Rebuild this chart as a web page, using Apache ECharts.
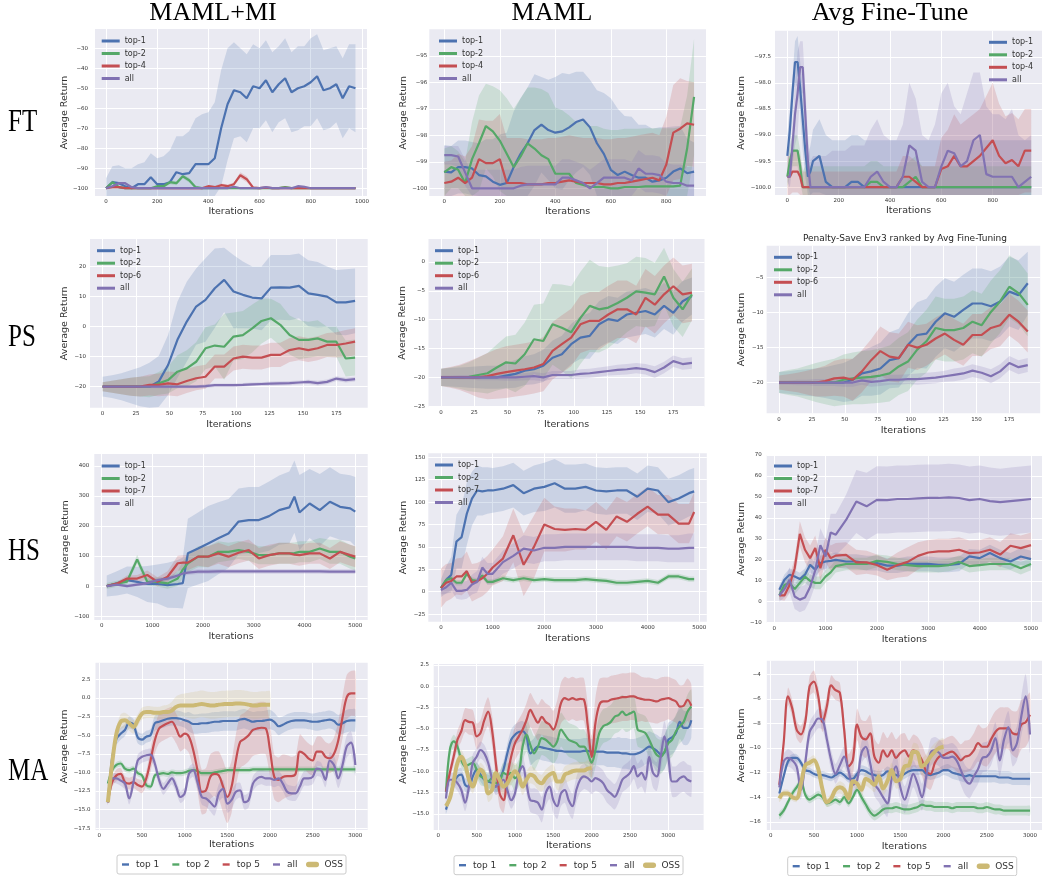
<!DOCTYPE html>
<html>
<head>
<meta charset="utf-8">
<title>Average Return vs Iterations</title>
<script src="https://cdn.jsdelivr.net/npm/echarts@6.0.0/dist/echarts.min.js"></script>
<style>
  html, body { margin: 0; padding: 0; background: #fff; }
  #chart { width: 1042px; height: 876px; }
</style>
</head>
<body>
<div id="chart"></div>
<script>
// ---------- FT row ----------
const ftMiIter = [0,25,50,75,100,125,150,175,200,225,250,275,300,325,350,375,400,425,450,475,500,525,550,575,600,625,650,675,700,725,750,775,800,825,850,875,900,925,950,975];
const ftMiTop1 = [-100,-97,-97.5,-99,-100,-98,-98,-94.5,-98,-98,-97,-92,-93,-92.5,-88,-88,-88,-85,-70,-58,-51,-52,-55,-49,-50,-46,-52,-48,-45,-52,-50,-49,-47,-44,-51,-50,-48,-55,-49,-50];
const ftMiTop1Std = [5,8,9,9,10,10,11,12,13,14,16,18,19,21,23,25,26,28,29,28,24,22,22,21,20,20,20,19,20,20,21,20,22,21,20,20,19,20,21,22];
const ftMiTop2 = [-100,-97,-99.5,-100,-100,-100,-100,-100,-99,-99,-97,-97.5,-94,-96,-99.5,-100,-100,-100,-100,-100,-100,-100,-100,-100,-100,-100,-100,-100,-99.5,-100,-100,-100,-100,-100,-100,-100,-100,-100,-100,-100];
const ftMiTop2Std = [0.5,1,0.8,0.5,0.5,0.5,0.5,0.5,0.7,0.8,1,1,1.2,1.2,0.8,0.5,0.5,0.5,0.5,0.5,0.5,0.5,0.5,0.5,0.5,0.5,0.5,0.5,0.6,0.5,0.5,0.5,0.5,0.5,0.5,0.5,0.5,0.5,0.5,0.5];
const ftMiTop4 = [-100,-99.5,-99.5,-100,-100,-100,-100,-100,-100,-100,-100,-100,-100,-100,-100,-100,-99,-99.5,-98.5,-99,-98,-93.5,-95.5,-99.7,-100,-99.7,-100,-100,-99.8,-100,-100,-100,-100,-100,-100,-100,-100,-100,-100,-100];
const ftMiTop4Std = [0.6,0.6,0.6,0.6,0.6,0.6,0.6,0.6,0.6,0.6,0.6,0.6,0.6,0.6,0.6,0.6,0.7,0.7,0.8,0.8,0.8,1.5,1.5,0.8,0.6,0.6,0.6,0.6,0.6,0.6,0.6,0.6,0.6,0.6,0.6,0.6,0.6,0.6,0.6,0.6];
const ftMiAll = [-100,-99,-97.5,-97.5,-99.5,-100,-100,-100,-100,-100,-100,-100,-100,-100,-100,-100,-100,-100,-100,-100,-99.3,-100,-100,-100,-100,-99.5,-100,-100,-100,-100,-99,-99.3,-100,-100,-100,-100,-100,-100,-100,-100];
const ftMiAllStd = [0.5,0.5,0.5,0.5,0.5,0.5,0.5,0.5,0.5,0.5,0.5,0.5,0.5,0.5,0.5,0.5,0.5,0.5,0.5,0.5,0.5,0.5,0.5,0.5,0.5,0.5,0.5,0.5,0.5,0.5,0.5,0.5,0.5,0.5,0.5,0.5,0.5,0.5,0.5,0.5];

const ftMamlIter = [0,25,50,75,100,125,150,175,200,225,250,275,300,325,350,375,400,425,450,475,500,525,550,575,600,625,650,675,700,725,750,775,800,825,850,875,900];
const ftMamlTop1 = [-99.37,-99.4,-99.2,-99.2,-99.25,-99.5,-99.55,-99.75,-99.87,-99.8,-99.2,-98.7,-98.3,-97.8,-97.6,-97.8,-97.9,-97.85,-97.7,-97.5,-97.4,-97.7,-98.3,-98.7,-99.3,-99.5,-99.37,-99.5,-99.6,-99.6,-99.75,-99.7,-99.6,-99.37,-99.25,-99.43,-99.37];
const ftMamlTop1Std = [1,1,1,1,1,1.2,1.4,1.6,1.9,1.9,2.1,2.1,2.1,2.1,1.8,1.9,2.1,2.2,2,1.9,1.8,1.8,2,2.3,2.7,2.5,2.1,2.2,2,2,2,2,1.9,1.7,1.6,1.3,1.1];
const ftMamlTop2 = [-99.4,-99.2,-99.3,-99.8,-98.9,-98.3,-97.65,-97.85,-98.2,-98.7,-99.2,-98.8,-98.3,-98.5,-98.75,-98.9,-99.45,-99.45,-99.45,-99.8,-99.87,-99.95,-99.95,-99.95,-100,-100,-99.95,-99.95,-99.95,-99.93,-99.93,-99.93,-99.93,-99.93,-99.9,-98.5,-96.55];
const ftMamlTop2Std = [0.9,0.8,0.7,0.8,1.4,1.8,1.6,1.7,1.9,2.1,2.2,2.2,2.1,2.3,2.5,2.5,2.5,2.4,2.2,2.3,2.4,2.3,2.3,2.2,2.2,2.2,2.2,2.2,2.2,2.2,2.2,2.2,2.2,2.2,2.2,2,2.2];
const ftMamlTop4 = [-99.8,-99.75,-99.6,-99.8,-99.6,-98.9,-99.05,-99.05,-98.9,-99.8,-99.8,-99.8,-99.85,-99.85,-99.85,-99.8,-99.8,-99.75,-99.7,-99.75,-99.8,-99.8,-99.8,-99.85,-99.85,-99.8,-99.8,-99.75,-99.7,-99.65,-99.6,-99.7,-99.1,-97.9,-97.75,-97.55,-97.6];
const ftMamlTop4Std = [0.8,0.8,0.9,1,1.2,1.5,1.6,1.6,1.7,1.7,1.7,1.7,1.7,1.7,1.7,1.7,1.7,1.7,1.7,1.7,1.7,1.7,1.7,1.7,1.7,1.7,1.7,1.7,1.7,1.7,1.7,1.7,1.8,1.8,1.9,1.6,1.6];
const ftMamlAll = [-98.75,-98.75,-98.8,-99.4,-100,-100,-100,-100,-100,-100,-100,-99.9,-99.85,-99.85,-99.85,-99.85,-99.85,-99.6,-99.6,-99.7,-99.8,-100,-99.8,-99.6,-99.6,-99.6,-99.6,-99.7,-99.25,-99.45,-99.45,-99.5,-99.75,-99.8,-99.8,-99.9,-99.9];
const ftMamlAllStd = [0.35,0.35,0.4,0.5,0.6,0.7,0.7,0.7,0.7,0.7,0.7,0.7,0.7,0.7,0.7,0.7,0.7,0.7,0.7,0.7,0.7,0.7,0.7,0.7,0.7,0.7,0.7,0.7,0.7,0.7,0.7,0.7,0.7,0.7,0.7,0.7,0.7];

const ftAvgIter = [0,10,20,30,40,50,60,70,80,90,100,125,150,175,200,225,250,275,300,325,350,375,400,425,450,475,500,525,550,575,600,625,650,675,700,725,750,775,800,825,850,875,900,925,950];
const ftAvgTop1 = [-99.4,-98.9,-98.2,-97.6,-97.6,-98.1,-98.7,-99.3,-99.8,-99.7,-99.5,-99.4,-99.9,-100,-100,-100,-99.9,-99.9,-100,-100,-100,-100,-100,-100,-100,-100,-100,-100,-100,-100,-100,-100,-100,-100,-100,-100,-100,-100,-100,-100,-100,-100,-100,-100,-100];
const ftAvgTop1Std = [0.4,0.4,0.3,0.4,0.5,0.5,0.6,0.5,0.4,0.5,0.6,0.7,0.9,0.9,0.9,0.9,0.9,0.9,0.9,0.9,0.9,0.9,0.9,0.9,0.9,0.9,0.9,0.9,0.9,0.9,0.9,0.9,0.9,0.9,0.9,0.9,0.9,0.9,0.9,0.9,0.9,0.9,0.9,0.9,0.9];
const ftAvgTop2 = [-99.8,-99.5,-99.3,-99.3,-99.3,-99.6,-100,-100,-100,-100,-100,-100,-100,-100,-100,-100,-100,-100,-100,-99.9,-99.9,-100,-100,-100,-100,-99.9,-99.8,-100,-100,-100,-100,-100,-100,-100,-100,-100,-100,-100,-100,-100,-100,-100,-100,-100,-100];
const ftAvgTop2Std = [0.2,0.3,0.3,0.3,0.3,0.3,0.3,0.4,0.4,0.4,0.4,0.4,0.4,0.4,0.4,0.4,0.4,0.4,0.4,0.4,0.4,0.4,0.4,0.4,0.4,0.4,0.4,0.4,0.4,0.4,0.4,0.4,0.4,0.4,0.4,0.4,0.4,0.4,0.4,0.4,0.4,0.4,0.4,0.4,0.4];
const ftAvgTop4 = [-99.8,-99.8,-99.7,-99.7,-99.7,-99.8,-100,-100,-100,-100,-100,-100,-100,-100,-100,-100,-100,-100,-100,-100,-100,-100,-100,-100,-99.8,-99.8,-99.9,-100,-100,-100,-99.65,-99.6,-99.4,-99.6,-99.6,-99.5,-99.4,-99.25,-99.1,-99.4,-99.54,-99.48,-99.6,-99.3,-99.3];
const ftAvgTop4Std = [0.4,0.4,0.4,0.4,0.4,0.4,0.3,0.3,0.3,0.3,0.3,0.3,0.3,0.3,0.3,0.3,0.3,0.3,0.3,0.3,0.3,0.3,0.3,0.3,0.4,0.4,0.4,0.4,0.4,0.4,0.6,0.7,0.8,0.8,0.9,0.9,0.9,1,1.1,1,0.9,0.9,0.9,0.8,0.8];
const ftAvgAll = [-99.8,-99.8,-99.2,-98.6,-98.2,-97.7,-97.7,-98.6,-99.5,-100,-100,-100,-100,-100,-100,-100,-100,-100,-100,-99.8,-99.7,-99.9,-100,-100,-99.8,-99.2,-99.3,-99.9,-100,-100,-99.6,-99.3,-99.35,-99.6,-99.5,-99.1,-99,-99.75,-99.8,-99.8,-99.8,-99.8,-100,-99.9,-99.8];
const ftAvgAllStd = [0.1,0.2,0.4,0.6,0.8,0.5,0.5,0.5,0.5,0.5,0.6,0.6,0.6,0.7,0.7,0.7,0.8,0.8,0.8,0.9,1,0.9,0.9,0.9,1,1.2,1,0.9,0.9,1.2,1.4,1.3,0.9,1,1.3,1.3,1.2,1.3,1.2,1.2,1.1,1.3,1,0.8,0.8];

// ---------- PS row ----------
const psIter = [0,7,14,21,28,35,42,49,56,63,70,77,84,91,98,105,112,119,126,133,140,147,154,161,168,175,182,189];
const psMiTop1 = [-20,-20,-20,-20,-20,-20,-18.3,-12.8,-4.4,1.7,6.7,8.9,12.8,15.6,11.7,10.6,9.7,9.4,13,13.1,13,13.6,11.1,10.6,10,8.1,8.1,8.6];
const psMiTop1Std = [3.3,3.8,4.5,5.5,6.5,8,8.5,10,12.7,13.3,12.7,13.9,13.2,10.7,12.2,11.1,10.3,10.6,10.9,10.8,10.9,10.8,11,10.9,10,10.8,11,10.8];
const psMiTop2 = [-20,-20,-20,-20,-20,-20,-18.9,-17.8,-15,-13.9,-11.7,-7.2,-6.3,-6.7,-3.3,-2.8,-0.6,1.9,2.8,0.6,-2.8,-4.4,-4.4,-3.9,-5,-5,-10.6,-10.3];
const psMiTop2Std = [1.5,2,2.5,3,3.3,3.5,3.8,4.5,5.5,6,6.5,7,7,11,8,8,8,7.5,6.5,7,6.5,6.5,6,6,5,5,6,6];
const psMiTop6 = [-20,-20,-20,-20,-20,-19.4,-19.4,-18.9,-19.2,-18.1,-17.2,-16.7,-13.3,-13.3,-10.6,-10,-10.3,-10.3,-9.4,-9.4,-7.8,-7.2,-7.8,-7.2,-6.1,-6.1,-5.6,-5];
const psMiTop6Std = [1.5,2,2.5,3,3.3,3.5,3.8,4,4,4,4,4,4,4,4,4,4,4,4,4,4,4,4,4,4,4.2,4.5,4.5];
const psMiAll = [-20,-20,-20,-20,-20,-20,-20,-20,-20,-20,-20,-19.8,-19.5,-19.5,-19.5,-19.4,-19.2,-19.1,-19,-18.9,-18.8,-18.6,-18.4,-18.8,-18.4,-17.3,-17.8,-17.5];
const psMiAllStd = [0.3,0.3,0.3,0.4,0.4,0.4,0.5,0.5,0.5,0.5,0.5,0.6,0.6,0.6,0.6,0.6,0.6,0.6,0.7,0.7,0.7,0.7,0.7,0.8,0.8,0.8,0.8,0.8];

const psMamlTop1 = [-20,-20,-20,-20,-20,-20,-20,-19.7,-19.4,-18.85,-18.6,-18,-16.6,-16,-14.25,-13.1,-12.8,-10.8,-9.9,-10.2,-9.1,-8.8,-8.5,-9.1,-7.6,-8.8,-6.8,-5.9];
const psMamlTop1Std = [1.5,1.6,1.7,1.8,1.9,2,2,2.2,2.4,2.5,2.6,2.8,3,3.2,3.5,3.7,4,4,4,4,4,4,4,4,4,3.8,3.5,3.2];
const psMamlTop2 = [-20,-20,-20,-19.9,-19.6,-19.3,-18.3,-17.4,-17.6,-16,-13.4,-13.7,-10.8,-11.4,-12.2,-9.7,-7.6,-8.2,-7.9,-7.1,-6.2,-5.1,-5.3,-5.6,-2.5,-6.2,-8.2,-5.6];
const psMamlTop2Std = [1.5,1.7,2,2.5,3,3.5,4,4.5,5,5.5,6,6.5,7,7.5,8,8,8,7.5,7,6.5,6,6,6,5.5,5,5,4.8,4.5];
const psMamlTop6 = [-20,-20,-20,-20,-20,-19.8,-19.4,-19.1,-18.85,-18.6,-18.3,-17.7,-15.4,-14.25,-13.1,-10.8,-10.2,-10.2,-9.1,-8.2,-8.2,-9.1,-6.2,-7.4,-5.6,-4.2,-5.6,-5.3];
const psMamlTop6Std = [1.5,1.8,2.2,2.8,3.5,4,4.3,4.5,4.5,4.5,4.5,4.7,5,5,5,5,5,5,5,5,5,5,5,5,5,5,5,5];
const psMamlAll = [-20,-20,-20,-20,-20,-20,-20,-20,-20,-19.9,-19.8,-20,-19.6,-19.6,-19.6,-19.4,-19.3,-19.1,-18.9,-18.7,-18.6,-18.4,-18.6,-19.1,-18.3,-17.2,-17.7,-17.5];
const psMamlAllStd = [0.3,0.3,0.4,0.4,0.5,0.5,0.5,0.6,0.6,0.6,0.7,0.7,0.7,0.7,0.7,0.8,0.8,0.8,0.8,0.9,0.9,0.9,0.9,1,1,1,1,1];

const psAvgTop1 = [-20,-20,-20,-20,-20,-20,-20,-20,-19.6,-18.7,-18.4,-18,-16.8,-16.5,-14.6,-13.2,-13,-11.3,-10.1,-10.6,-9.6,-8.7,-8.7,-9.1,-8.4,-7,-7.5,-5.8];
const psAvgTop1Std = [1.5,1.6,1.8,1.9,2,2.2,2.5,2.8,3,3.2,3.5,3.7,4,4.2,4.5,4.7,5,5,5,5,5,5,5,5,5,5,5,4.5];
const psAvgTop2 = [-20,-20,-20,-20,-20,-20,-20,-19.6,-19.4,-19.3,-19.2,-19,-18.7,-17.7,-17,-15.3,-14.1,-12.2,-12.5,-12.5,-12.2,-11.3,-11.8,-9.9,-8.4,-6.3,-7.2,-8.9];
const psAvgTop2Std = [1.5,1.8,2,2.4,2.8,3.1,3.4,3.6,3.7,3.8,3.8,3.9,4,4.1,4.2,4.3,4.5,4.5,4.5,4.5,4.5,4.5,4.5,4.5,4.5,4.5,4.5,4.5];
const psAvgTop6 = [-20,-20,-20,-20,-20,-19.8,-19.4,-19.3,-19.6,-18.4,-16.8,-15.5,-16.3,-16.5,-14.6,-15,-14.6,-13.7,-13,-13.9,-14.6,-13.2,-13.2,-12.2,-11.8,-10.3,-11.3,-12.7];
const psAvgTop6Std = [1,1.2,1.4,1.7,2,2.2,2.5,2.7,3,3,3,3.5,3.5,3.5,3.3,3.2,3,3,3,3,3,3,3,3,3,3,3,3];
const psAvgAll = [-20,-20,-20,-20,-20,-20,-20,-20,-20,-19.7,-19.9,-19.8,-19.6,-19.6,-19.5,-19.5,-19.4,-19.3,-19.1,-18.9,-18.7,-18.3,-18.6,-19.1,-18.4,-17.2,-17.8,-17.5];
const psAvgAllStd = [0.3,0.3,0.4,0.4,0.5,0.5,0.5,0.6,0.6,0.6,0.7,0.7,0.7,0.7,0.7,0.8,0.8,0.8,0.8,0.9,0.9,0.9,0.9,1,1,1,1,1];

// ---------- HS row ----------
const hsMiIter = [100,300,500,700,900,1100,1300,1500,1600,1700,1900,2100,2300,2500,2700,2900,3100,3300,3500,3700,3800,3900,4100,4300,4500,4700,4900,5000];
const hsMiTop1 = [0,9,20,14,7,7,3,7,10,109,125,142,159,175,215,220,220,233,253,262,298,245,275,253,281,264,259,248];
const hsMiTop1Std = [35,40,45,50,60,65,75,80,85,115,120,125,120,115,110,110,110,115,115,120,120,125,115,120,115,110,110,115];
const hsMiTop2 = [0,8,15,89,14,14,9,25,55,76,98,98,114,114,120,114,103,103,109,109,110,114,114,125,114,114,98,92];
const hsMiTop2Std = [10,10,10,15,12,15,18,25,28,30,35,35,35,30,30,30,30,30,35,35,35,35,35,35,40,40,40,40];
const hsMiTop7 = [0,8,25,25,37,14,31,76,78,78,98,98,109,98,111,120,92,103,109,109,105,103,109,109,92,114,103,98];
const hsMiTop7Std = [5,6,10,12,15,15,18,25,25,25,30,35,35,35,35,35,35,35,35,35,35,35,35,35,35,35,35,35];
const hsMiAll = [0,5,0,5,10,20,25,35,42,45,48,48,49,49,49,49,49,49,49,49,49,49,49,49,48,48,48,48];
const hsMiAllStd = [5,5,5,6,6,7,7,8,8,8,8,8,8,8,8,8,8,8,8,8,8,8,8,8,8,8,8,8];

const hsMamlIter = [0,100,200,300,400,500,600,700,800,900,1000,1200,1400,1600,1800,2000,2200,2400,2600,2800,3000,3200,3400,3600,3800,4000,4200,4400,4600,4800,4900];
const hsMamlTop1 = [4,13,19,56,61,87,104,113,112,113,113,115,119,110,115,117,121,115,115,117,113,112,113,113,106,115,113,100,104,110,112];
const hsMamlTop1Std = [10,15,20,30,35,35,30,28,27,26,25,25,25,25,26,27,27,27,27,26,26,26,26,26,26,26,26,26,26,26,26];
const hsMamlTop2 = [4,13,15,10,10,20,13,12,18,11,11,15,13,15,13,14,13,13,13,14,13,12,10,10,11,12,10,17,17,14,14];
const hsMamlTop2Std = [3,3,3,3,3,3,3,3,3,3,3,3,3,3,3,3,3,3,3,3,3,3,3,3,3,3,3,3,3,3,3];
const hsMamlTop7 = [4,10,12,17,17,23,10,12,15,20,27,37,63,30,50,75,70,69,70,69,78,69,84,78,87,95,86,86,76,76,89];
const hsMamlTop7Std = [22,21,20,20,21,22,21,20,20,20,20,25,30,35,35,30,25,24,23,22,22,22,22,22,22,22,22,22,22,22,22];
const hsMamlAll = [2,5,10,1,1,2,8,11,27,20,20,33,40,48,46,49,49,50,50,50,50,50,50,50,49,49,49,48,48,49,49];
const hsMamlAllStd = [5,7,8,9,10,10,11,12,12,12,12,13,14,15,15,15,15,15,15,15,15,15,15,15,15,15,15,15,15,16,16];

const hsAvgIter = [100,200,300,400,500,600,700,800,900,1000,1100,1200,1400,1600,1800,2000,2200,2400,2600,2800,3000,3200,3400,3600,3800,4000,4200,4400,4600,4800,5000];
const hsAvgTop1 = [5.7,10.5,12.9,12,10.8,12.9,17.6,15.3,18.4,19.2,19.5,20,19.2,19.2,18.4,18.4,17.2,17.2,18.1,18.1,18.1,17.6,17.6,18.1,21.6,20.8,23.2,20.8,19.2,21.6,20.3];
const hsAvgTop1Std = [2,2.5,3,3,3,3,3.5,3.5,3.5,3.5,3.5,3.5,3.5,3.5,3.5,3.5,3.5,3.5,3.5,3.5,3.5,3.5,3.5,3.5,3.5,4,4,4,4,4,4];
const hsAvgTop2 = [3,8,9,6,9,12,10,9,9,12,14,17,18,18,18,19.5,19,18,17.5,17,17,17,17.5,19,17,17.5,18,18,18,16,18];
const hsAvgTop2Std = [2,2,2.5,2.5,2.5,3,3,3,3,3,3,3,3,3,3,3,3,3,3,3,3,3,3,3,3,3,3,3,3,3,3];
const hsAvgTop7 = [3,3,8,16,32.4,24.8,20.8,25.6,16,24.8,20.8,22,22.4,18.8,18.8,17.5,15.3,17.5,19,21.9,23.5,24,24,24.8,23.2,23.5,24.8,22.5,26.7,25.6,27];
const hsAvgTop7Std = [2,2.5,4,5,6,6,6,6,6,6,6,6,6,6,5.5,5,5,6,7,6.5,6,6,6,6,6,6,6,6,6,6,6];
const hsAvgAll = [3,6,10.5,2.5,1,2,7,15,27,21.6,33,32,39,47.8,45.5,48.6,48.5,49,49,49.3,49.5,49.5,49.8,49.5,48.5,49,48,47.5,48,48.5,49];
const hsAvgAllStd = [3,4,6,6,6,6,6,7,8,8,9,10,12,15,16,16,16,16,16,16,16,16,16,16,16,16,16,16,16,16,16];

// ---------- MA row ----------
const maMiIter = [100,150,200,250,300,350,400,450,500,550,600,650,700,750,800,850,900,950,1000,1050,1100,1150,1200,1250,1300,1350,1400,1450,1500,1550,1600,1650,1700,1750,1800,1850,1900,1950,2000,2050,2100,2150,2200,2250,2300,2350,2400,2450,2500,2550,2600,2650,2700,2750,2800,2850,2900,2950,3000];
const maMiTop1 = [-14,-8,-5.5,-4.8,-4.3,-3.3,-3.6,-5.3,-5.6,-5.2,-5,-3.4,-3.2,-3,-2.8,-2.7,-2.7,-2.8,-3,-3.2,-3.5,-3.5,-3.4,-3.4,-3.3,-3.2,-3.2,-3.1,-3.1,-3.1,-3.1,-2.9,-2.8,-3,-3.2,-3.1,-3.1,-3,-2.9,-3.2,-3.8,-3.6,-3.3,-3.1,-3,-3,-3,-3.1,-3.2,-3.2,-3.1,-3,-2.9,-3.1,-3.6,-3.4,-3.1,-3,-3];
const maMiTop1Std = [0.3,0.6,0.8,0.8,0.8,0.8,0.8,0.8,0.8,0.8,0.8,1,1,1,1,1,1,1,1,1.3,1.3,1.3,1.3,1.3,1.3,1.3,1.3,1.3,1.3,1.3,1.3,1.3,1.3,1.3,1.3,1.3,1.3,1.3,1.3,1.2,1.2,1.1,1.1,1.1,1.1,1.1,1.1,1.1,1.1,1.2,1.2,1.2,1.2,1.2,1.3,1.4,1.5,1.5,1.5];
const maMiTop2 = [-11.5,-9.7,-9,-8.8,-9.5,-9.7,-9.5,-10.1,-10.4,-11.7,-11.9,-10.4,-10.2,-10.1,-10.2,-10,-10.1,-10.1,-10,-9.8,-9.7,-9.8,-10.1,-10.1,-10.1,-10,-9.9,-9.8,-9.7,-9.7,-9.7,-9.7,-9.7,-9.7,-9.6,-9.6,-9.6,-9.6,-9.6,-9.6,-9.6,-9.6,-9.6,-9.6,-9.6,-9.6,-9.6,-9.6,-9.6,-9.6,-9.6,-9.6,-9.6,-9.6,-9.6,-9.6,-9.6,-9.6,-9.6];
const maMiTop2Std = [0.3,0.4,0.4,0.4,0.4,0.4,0.4,0.4,0.4,0.4,0.4,0.4,0.4,0.4,0.4,0.4,0.4,0.4,0.4,0.4,0.4,0.4,0.4,0.4,0.4,0.4,0.4,0.4,0.4,0.4,0.4,0.4,0.4,0.4,0.4,0.4,0.4,0.4,0.4,0.4,0.4,0.4,0.4,0.4,0.4,0.4,0.4,0.4,0.4,0.4,0.4,0.4,0.4,0.4,0.4,0.4,0.4,0.4,0.4];
const maMiTop5 = [-14,-11.3,-10.4,-10.2,-11.3,-11.5,-11.3,-11.7,-11.9,-10.8,-8.4,-5.7,-4.1,-3.7,-3.4,-3.2,-4.1,-5.2,-4.8,-5.2,-7,-9.7,-12.6,-12.4,-10.6,-10.2,-10.4,-11.9,-13.3,-11.9,-8.4,-5.9,-5.5,-5,-4.3,-4.1,-4,-4.1,-7,-10.6,-11,-10.6,-10.5,-10.5,-10.2,-7.2,-7.5,-8.1,-8.4,-7.2,-7.2,-7.9,-8.1,-7.5,-5.7,-2.6,0.1,0.6,0.6];
const maMiTop5Std = [0.3,0.6,0.8,0.8,0.8,0.8,0.8,0.8,0.9,1,1.5,1.8,2,2,2,2,2,2,2,2.2,2.5,2.8,3,3,3,3,3.2,3.5,3.5,3.5,3.5,3.5,3.5,3.5,3.5,3.5,3.5,3.5,3.5,3,3,3,2.8,2.6,2.5,2.3,2,2,2,2,2,2,2,2.2,2.5,2.8,3,3,3];
const maMiAll = [-14,-10.8,-10.8,-11.1,-11.5,-13.5,-11.3,-8.4,-7.9,-7.7,-7.6,-8.8,-11,-12.2,-11.5,-10.8,-11.9,-13.3,-12.8,-10.2,-9.7,-11.3,-13.3,-13.5,-14,-14.6,-12.8,-12.2,-14.2,-13.7,-12.6,-12.4,-14,-13.7,-11.5,-10.8,-10.6,-10.8,-10.8,-11,-10.8,-11.5,-12.6,-12.8,-12.8,-11.9,-10.8,-10.8,-10.6,-9.5,-9.7,-11,-8.4,-9,-10.8,-9,-6.5,-6,-9];
const maMiAllStd = [0.3,0.6,0.7,0.7,0.8,0.8,0.8,0.8,0.8,0.8,0.8,0.8,0.8,0.8,0.8,0.8,0.8,0.8,0.8,0.9,0.9,1,1,1.1,1.2,1.2,1.2,1.2,1.2,1.2,1.1,1,1,1,1,1,1,1,1,1,1,1,1,1,1,1,1,1,1,1,1,1,1.1,1.2,1.3,1.4,1.5,1.5,1.5];
const maMiOss = [-14,-8.8,-4.8,-3.2,-3,-3.4,-3.9,-3,-2.1,-1.9,-1.9,-2,-2,-1.9,-1.9,-1.7,-1.2,-1,-1,-1,-1,-0.9,-0.8,-0.9,-1,-1,-0.9,-0.85,-0.8,-0.8,-0.75,-0.75,-0.8,-0.9,-1,-1,-0.9,-0.9,-0.9];
const maMiOssStd = [0.3,0.6,0.8,1,1,1,0.9,0.8,0.8,0.8,0.8,0.8,0.8,0.9,1,1.2,1.4,1.5,1.6,1.7,1.8,1.8,1.8,1.8,1.8,1.8,1.8,1.8,1.8,1.8,1.8,1.8,1.8,1.8,1.8,1.8,1.8,1.8,1.8];

const maMamlIter = [100,150,200,250,300,350,400,450,500,550,600,650,700,750,800,850,900,950,1000,1050,1100,1150,1200,1250,1300,1350,1400,1450,1500,1550,1600,1650,1700,1750,1800,1850,1900,1950,2000,2050,2100,2150,2200,2250,2300,2350,2400,2450,2500,2550,2600,2650,2700,2750,2800,2850,2900,2950,3000,3050,3100,3150,3200,3250,3300];
const maMamlTop1 = [-14.5,-13,-11.4,-10.6,-10.4,-11.6,-11.8,-10.6,-9.8,-10.4,-11,-11.2,-11.4,-11.8,-11,-9.8,-7.9,-6.3,-5.7,-5.4,-5.3,-5.9,-7.9,-7.5,-7.1,-7.2,-7.3,-7.4,-7.5,-7.6,-7.6,-7.7,-7.7,-7.7,-7.7,-7.7,-7.6,-7.6,-7.7,-7.7,-7.7,-7.7,-7.8,-7.8,-7.8,-7.8,-7.9,-7.9,-8,-8,-7.9,-7.7,-7.4,-7.1,-7.3,-7.6,-8,-7.8,-6.3,-6,-5.5,-4.2,-4.9,-4.9,-4];
const maMamlTop1Std = [0.5,0.6,0.7,0.8,0.8,0.8,0.8,0.8,0.8,0.8,0.8,0.8,0.8,0.8,0.9,1,1.1,1.2,1.2,1.2,1.2,1.3,1.4,1.4,1.5,1.5,1.5,1.5,1.5,1.5,1.5,1.5,1.5,1.5,1.5,1.5,1.5,1.5,1.5,1.6,1.6,1.6,1.7,1.7,1.7,1.8,1.8,1.8,1.8,1.8,1.8,1.8,1.8,1.8,1.8,1.9,2,2,2,2,2,2,2,2,2];
const maMamlTop2 = [-12.4,-7.5,-6.5,-7.1,-8.7,-9.4,-9.2,-9,-9.8,-10.6,-10.8,-11.2,-10.8,-11.4,-11.2,-10.2,-10.4,-10.2,-10.8,-10.2,-7.1,-5.7,-6.9,-7.9,-7.1,-6.1,-6.3,-6.7,-7.1,-6.5,-5.1,-5.7,-6.3,-6.5,-6.7,-7.1,-7.1,-7.9,-9,-7.5,-5.5,-4.7,-4.5,-4.2,-3.6,-3.4,-3,-3.4,-3.2,-3,-5.1,-5.3,-5.5,-6.3,-7.3,-8.1,-8.3,-7.7,-6.7,-6.3,-5.3,-4.7,-4.2,-3,-2.4];
const maMamlTop2Std = [0.6,0.8,0.8,0.8,0.8,0.8,0.8,0.8,0.9,1,1,1,1,1,1.1,1.2,1.3,1.4,1.5,1.6,1.8,2,2,2,2,2,2,2,2,2,2,2,2,2,2,2,2,2,2,2,2,2,2,2,2,2,2,2,2,2,2,2,2,2,2,2,2,2,2,2,2,2,2,2,2];
const maMamlTop5 = [-12.4,-10.2,-8.3,-6.3,-5.3,-4,-4.2,-4.3,-5.9,-5.5,-4,-3,-5.1,-9,-12.6,-13.4,-10.6,-8.3,-6.7,-5.9,-5.1,-4,-2.8,-3.6,-4.3,-3.6,-4.2,-4.5,-5.1,-4,-2,-1.4,-1.6,-1.4,-1.6,-1.5,-1.6,-4.7,-8.3,-4.3,-2.2,-1.8,-1.8,-1.6,-1.5,-1.4,-1.3,-1.3,-1.2,-1.2,-1.4,-1.5,-1.6,-1.6,-1.7,-1.8,-1.6,-1.5,-1.4,-1.6,-1.8,-2.4,-2.3,-1.6,-2.3];
const maMamlTop5Std = [0.5,0.7,0.9,1.1,1.2,1.4,1.5,1.5,1.5,1.5,1.6,1.7,1.8,1.8,1.6,1.5,1.6,1.8,2,2,2,2,2,2,2.1,2.1,2.2,2.2,2.2,2.3,2.4,2.5,2.5,2.5,2.5,2.5,2.5,2.5,2.5,3,3,2.8,2.8,2.8,2.8,2.8,2.8,2.8,2.8,2.8,2.8,2.6,2.6,2.6,2.6,2.6,2.6,2.6,2.5,2.5,2.5,2.5,2.5,2.5,2.5];
const maMamlAll = [-13.2,-11,-11,-11.4,-12.2,-13.7,-11.8,-9,-8.3,-7.5,-7.9,-9,-10.8,-11.8,-11.4,-11,-12.2,-13.4,-12.6,-10.2,-9.4,-11.4,-13.4,-13.5,-13.7,-14.5,-12.6,-11.8,-13.4,-14.1,-12.6,-12.2,-13.4,-14.1,-12.2,-11,-10.6,-10.8,-11.2,-10.8,-11,-11.4,-12.2,-12.6,-13,-12.2,-11,-10.6,-10.2,-9.4,-10.6,-10.2,-11,-8.3,-10.2,-10.6,-8.3,-5.9,-8.3,-11.2,-11.2,-10.8,-10.6,-11,-11.2];
const maMamlAllStd = [0.5,0.7,0.8,0.9,1,1,1,1,1,1,1,1,1,1,1,1,1,1,1,1.1,1.2,1.3,1.4,1.5,1.5,1.5,1.5,1.5,1.5,1.5,1.5,1.5,1.5,1.5,1.5,1.5,1.5,1.5,1.5,1.5,1.5,1.5,1.5,1.5,1.5,1.5,1.5,1.5,1.5,1.5,1.5,1.6,1.6,1.7,1.7,1.7,1.8,1.8,1.8,1.8,1.8,1.8,1.8,1.8,1.8];
const maMamlOss = [-14.1,-13.2,-11.2,-9,-8.3,-9.2,-11,-11.8,-10.6,-9.8,-10.4,-12.6,-12.2,-10.2,-11,-11.8,-11.4,-10.6,-10,-10.6,-11.8,-11,-10.4,-10.6,-11.2,-11.4,-10.8,-10.4,-10.2,-11.2,-11.2,-10.4,-10.2,-10,-9.9,-9.9,-9.9,-9.7,-9.6];
const maMamlOssStd = [0.4,0.5,0.6,0.8,0.8,0.8,0.8,0.8,0.8,0.8,0.9,1,1,1,1,1,1,1,1,1,1,1,1,1,1,1,1,1,1,1,1,1,1,1,1,1,1,1,1];

const maAvgIter = maMiIter;
const maAvgTop1 = [-13.7,-12.3,-11.1,-10.8,-10.8,-11.2,-11.8,-11.9,-12.1,-12.2,-12.2,-12.3,-12.4,-12.2,-12,-12.2,-12.5,-12.5,-12.1,-11.8,-11.9,-12.1,-12.2,-12.3,-12.2,-11.9,-12.1,-12.2,-12.3,-12.1,-11.9,-11.8,-11.8,-11.8,-12.1,-12.2,-12.1,-12,-11.8,-11.8,-12,-12.1,-12.2,-12.3,-12.2,-12.3,-12.3,-12.3,-12.3,-12.3,-12.3,-12.4,-12.4,-12.4,-12.5,-12.5,-12.5,-12.5,-12.5];
const maAvgTop1Std = [0.3,0.3,0.3,0.3,0.3,0.3,0.3,0.3,0.3,0.3,0.3,0.3,0.3,0.3,0.3,0.3,0.3,0.3,0.3,0.4,0.4,0.4,0.4,0.4,0.4,0.4,0.4,0.4,0.4,0.4,0.4,0.4,0.4,0.4,0.4,0.4,0.4,0.4,0.4,0.5,0.5,0.5,0.5,0.5,0.5,0.5,0.5,0.5,0.5,0.5,0.5,0.5,0.5,0.5,0.5,0.5,0.5,0.5,0.5];
const maAvgTop2 = [-15.5,-15.1,-14.4,-13.7,-13.2,-12.7,-13.8,-14.2,-14,-13.8,-14,-14.5,-14.4,-14.2,-14.4,-14,-14.5,-14,-13.4,-14,-14.6,-15.2,-15.5,-15.3,-15,-14.9,-14.9,-14.8,-14.9,-15,-15,-14.9,-14.8,-14.6,-14.7,-14.7,-14.8,-14.8,-14.8,-14.8,-14.9,-14.8,-14.8,-14.8,-14.8,-14.8,-14.9,-14.9,-14.8,-14.9,-15,-15,-15.1,-15.1,-15.1,-15.1,-15.1,-15.1,-15.1];
const maAvgTop2Std = [0.3,0.3,0.3,0.3,0.3,0.3,0.3,0.3,0.3,0.3,0.3,0.3,0.3,0.3,0.3,0.3,0.3,0.3,0.3,0.4,0.4,0.4,0.4,0.4,0.4,0.4,0.4,0.4,0.4,0.4,0.4,0.4,0.4,0.4,0.4,0.4,0.4,0.4,0.4,0.4,0.4,0.4,0.4,0.4,0.4,0.4,0.4,0.4,0.4,0.4,0.4,0.4,0.4,0.4,0.4,0.4,0.4,0.4,0.4];
const maAvgTop5 = [-13,-9.6,-5.8,-6.8,-8.5,-8.9,-7.9,-5,-4.6,-5.8,-7.9,-6.6,-4.9,-5.3,-5.5,-8.5,-11.5,-11,-8.1,-9.1,-9.3,-8.8,-10.7,-11.2,-10.2,-10.7,-10.2,-10.8,-10.4,-10.2,-10.7,-10.2,-10.4,-11,-11.9,-12.1,-11.2,-10.7,-10.6,-10.4,-10.3,-10.6,-11,-10.7,-10.6,-10.2,-9.6,-9.9,-9.9,-9.3,-8.7,-8.4,-8.4,-8.4,-8.8,-8.9,-8.1,-7.9,-7.3];
const maAvgTop5Std = [0.4,0.6,0.7,0.7,0.7,0.7,0.7,0.8,0.9,0.8,0.8,0.8,0.8,0.8,0.8,0.9,1,1.2,1.3,1.4,1.5,1.5,1.5,1.5,1.5,1.5,1.5,1.5,1.5,1.4,1.3,1.3,1.3,1.3,1.3,1.3,1.3,1.3,1.3,1.3,1.3,1.3,1.3,1.3,1.3,1.4,1.5,1.5,1.6,1.7,1.7,1.7,1.7,1.7,1.8,1.9,2,2,1.8];
const maAvgAll = [-13.2,-11.1,-10.8,-11,-11.5,-13.4,-11.2,-8.7,-8.1,-7.6,-7.7,-9.3,-11,-12.1,-11.4,-10.7,-11.8,-13,-12.6,-10.4,-9.9,-11.2,-12.9,-13.4,-14,-14.5,-12.5,-11.5,-13.2,-14.2,-13.2,-12.1,-12.9,-14,-12.3,-10.4,-10.2,-10.4,-10.8,-10.8,-10.7,-11,-11.8,-12.6,-12.9,-12.3,-11.7,-10.8,-10.7,-10.2,-9.2,-11,-9.3,-8.3,-10.2,-9.6,-7.4,-5.8,-8.9];
const maAvgAllStd = [0.4,0.6,0.7,0.7,0.7,0.8,0.8,0.8,0.8,0.8,0.8,0.8,0.8,0.8,0.8,0.8,0.8,0.8,0.8,0.9,0.9,1,1,1,1.1,1.1,1.1,1.1,1.1,1.1,1.1,1.1,1.1,1.1,1.1,1.1,1.1,1.1,1.1,1.1,1.1,1.1,1.2,1.2,1.2,1.2,1.2,1.2,1.2,1.2,1.3,1.3,1.3,1.3,1.3,1.4,1.6,1.8,1.5];
const maAvgOss = [-14.1,-13.7,-13.7,-14,-14.1,-12.9,-11.4,-11.2,-11,-11.7,-13.4,-14.4,-14.1,-13.4,-13.2,-13.4,-14.1,-12.7,-12.9,-13.4,-12.5,-12.7,-13,-12.3,-13.3,-12.7,-11.8,-12.7,-12.5,-11.5,-11.4,-10.3,-10.4,-11.5,-11.2,-10.7,-10.3,-10,-9.9];
const maAvgOssStd = [0.3,0.3,0.3,0.3,0.3,0.4,0.4,0.4,0.4,0.4,0.4,0.4,0.4,0.4,0.5,0.5,0.5,0.5,0.5,0.6,0.6,0.6,0.6,0.6,0.6,0.6,0.6,0.6,0.7,0.7,0.7,0.7,0.7,0.7,0.7,0.7,0.7,0.7,0.7];

// ---------- ticks ----------
const ftMiXTicks = [0,200,400,600,800,1000];
const ftMiYTicks = [-100,-90,-80,-70,-60,-50,-40,-30];
const ftXTicks = [0,200,400,600,800];
const ftMamlYTicks = [-100,-99,-98,-97,-96,-95];
const ftAvgYTicks = [-100,-99.5,-99,-98.5,-98,-97.5];
const psXTicks = [0,25,50,75,100,125,150,175];
const psMiYTicks = [-20,-10,0,10,20];
const psMamlYTicks = [-25,-20,-15,-10,-5,0];
const psAvgYTicks = [-20,-15,-10,-5];
const hsXTicks = [0,1000,2000,3000,4000,5000];
const hsMiYTicks = [-100,0,100,200,300,400];
const hsMamlYTicks = [-25,0,25,50,75,100,125,150];
const hsAvgYTicks = [-10,0,10,20,30,40,50,60,70];
const maXTicks = [0,500,1000,1500,2000,2500,3000];
const maMiYTicks = [-17.5,-15,-12.5,-10,-7.5,-5,-2.5,0,2.5];
const maMamlYTicks = [-15,-12.5,-10,-7.5,-5,-2.5,0,2.5];
const maAvgYTicks = [-16,-14,-12,-10,-8,-6,-4];

const C = { blue: '#4C72B0', green: '#55A868', red: '#C44E52', purple: '#8172B2', gold: '#CCB974' };

const L = (name, color, iter, mean, std, width) => ({ name, color, iter, mean, std, width: width || 2.2 });

const panels = [
  { rect: [95, 29, 272, 167], x: [-43, 1020], y: [-103.9, -20.4], xt: ftMiXTicks, yt: ftMiYTicks, dec: 0, lm: 7, yg: 25, xg: 11,
    legend: [101.7, 35], lines: [L('top-1', C.blue, ftMiIter, ftMiTop1, ftMiTop1Std), L('top-2', C.green, ftMiIter, ftMiTop2, ftMiTop2Std), L('top-4', C.red, ftMiIter, ftMiTop4, ftMiTop4Std), L('all', C.purple, ftMiIter, ftMiAll, ftMiAllStd)] },
  { rect: [429.3, 29.3, 276.7, 166.7], x: [-54, 943], y: [-100.29, -94.0], xt: ftXTicks, yt: ftMamlYTicks, dec: 0, lm: 2, yg: 21, xg: 11,
    legend: [439, 35], lines: [L('top-1', C.blue, ftMamlIter, ftMamlTop1, ftMamlTop1Std), L('top-2', C.green, ftMamlIter, ftMamlTop2, ftMamlTop2Std), L('top-4', C.red, ftMamlIter, ftMamlTop4, ftMamlTop4Std), L('all', C.purple, ftMamlIter, ftMamlAll, ftMamlAllStd)] },
  { rect: [775, 30.7, 267, 164.3], x: [-48, 992], y: [-100.15, -97.0], xt: ftXTicks, yt: ftAvgYTicks, dec: 1, lm: 4, yg: 28, xg: 11,
    legend: [989, 36.3], lines: [L('top-1', C.blue, ftAvgIter, ftAvgTop1, ftAvgTop1Std), L('top-2', C.green, ftAvgIter, ftAvgTop2, ftAvgTop2Std), L('top-4', C.red, ftAvgIter, ftAvgTop4, ftAvgTop4Std), L('all', C.purple, ftAvgIter, ftAvgAll, ftAvgAllStd)] },
  { rect: [90, 239, 277.7, 168.7], x: [-9.45, 198.45], y: [-27, 29.2], xt: psXTicks, yt: psMiYTicks, dec: 0, lm: 4, yg: 20, xg: 12,
    legend: [97, 244.7], lines: [L('top-1', C.blue, psIter, psMiTop1, psMiTop1Std), L('top-2', C.green, psIter, psMiTop2, psMiTop2Std), L('top-6', C.red, psIter, psMiTop6, psMiTop6Std), L('all', C.purple, psIter, psMiAll, psMiAllStd)] },
  { rect: [428.5, 239, 276, 167.7], x: [-9.45, 198.45], y: [-25.1, 4.0], xt: psXTicks, yt: psMamlYTicks, dec: 0, lm: 3.5, yg: 21, xg: 13,
    legend: [435, 244.7], lines: [L('top-1', C.blue, psIter, psMamlTop1, psMamlTop1Std), L('top-2', C.green, psIter, psMamlTop2, psMamlTop2Std), L('top-6', C.red, psIter, psMamlTop6, psMamlTop6Std), L('all', C.purple, psIter, psMamlAll, psMamlAllStd)] },
  { rect: [766.6, 245.7, 273.6, 167.6], x: [-9.45, 198.45], y: [-24.4, -0.43], xt: psXTicks, yt: psAvgYTicks, dec: 0, lm: 3, yg: 20, xg: 12,
    legend: [774, 251.3], lines: [L('top-1', C.blue, psIter, psAvgTop1, psAvgTop1Std), L('top-2', C.green, psIter, psAvgTop2, psAvgTop2Std), L('top-6', C.red, psIter, psAvgTop6, psAvgTop6Std), L('all', C.purple, psIter, psAvgAll, psAvgAllStd)] },
  { rect: [94.3, 454, 273.4, 166], x: [-145, 5245], y: [-113, 440], xt: hsXTicks, yt: hsMiYTicks, dec: 0, lm: 5, yg: 24, xg: 12,
    legend: [101.7, 460], lines: [L('top-1', C.blue, hsMiIter, hsMiTop1, hsMiTop1Std), L('top-2', C.green, hsMiIter, hsMiTop2, hsMiTop2Std), L('top-7', C.red, hsMiIter, hsMiTop7, hsMiTop7Std), L('all', C.purple, hsMiIter, hsMiAll, hsMiAllStd)] },
  { rect: [428.3, 453.3, 278.5, 168.4], x: [-245, 5145], y: [-33.5, 154.5], xt: hsXTicks, yt: hsMamlYTicks, dec: 0, lm: 3, yg: 20, xg: 12,
    legend: [435, 459], lines: [L('top-1', C.blue, hsMamlIter, hsMamlTop1, hsMamlTop1Std), L('top-2', C.green, hsMamlIter, hsMamlTop2, hsMamlTop2Std), L('top-7', C.red, hsMamlIter, hsMamlTop7, hsMamlTop7Std), L('all', C.purple, hsMamlIter, hsMamlAll, hsMamlAllStd)] },
  { rect: [766.7, 455, 275.3, 167.7], x: [-145, 5214], y: [-10, 70], xt: hsXTicks, yt: hsAvgYTicks, dec: 0, lm: 5, yg: 20, xg: 12,
    legend: [774, 460], lines: [L('top-1', C.blue, hsAvgIter, hsAvgTop1, hsAvgTop1Std), L('top-2', C.green, hsAvgIter, hsAvgTop2, hsAvgTop2Std), L('top-7', C.red, hsAvgIter, hsAvgTop7, hsAvgTop7Std), L('all', C.purple, hsAvgIter, hsAvgAll, hsAvgAllStd)] },
  { rect: [95.5, 662.7, 272.2, 167.3], x: [-45, 3145], y: [-17.73, 4.73], xt: maXTicks, yt: maMiYTicks, dec: 1, lm: 5, yg: 25.5, xg: 10, smooth: 0.35,
    box: [117, 855], lines: [L('top 1', C.blue, maMiIter, maMiTop1, maMiTop1Std), L('top 2', C.green, maMiIter, maMiTop2, maMiTop2Std), L('top 5', C.red, maMiIter, maMiTop5, maMiTop5Std), L('all', C.purple, maMiIter, maMiAll, maMiAllStd), L('OSS', C.gold, maMiIter, maMiOss, maMiOssStd, 4)] },
  { rect: [433.7, 664, 269.9, 166], x: [-60, 3460], y: [-16.9, 2.6], xt: maXTicks, yt: maMamlYTicks, dec: 1, lm: 4.7, yg: 25.5, xg: 11, smooth: 0.35,
    box: [454, 855.7], lines: [L('top 1', C.blue, maMamlIter, maMamlTop1, maMamlTop1Std), L('top 2', C.green, maMamlIter, maMamlTop2, maMamlTop2Std), L('top 5', C.red, maMamlIter, maMamlTop5, maMamlTop5Std), L('all', C.purple, maMamlIter, maMamlAll, maMamlAllStd), L('OSS', C.gold, maMamlIter, maMamlOss, maMamlOssStd, 4)] },
  { rect: [766.8, 660.7, 275.2, 169.3], x: [-45, 3139], y: [-16.67, -2.9], xt: maXTicks, yt: maAvgYTicks, dec: 0, lm: 6, yg: 20, xg: 12, smooth: 0.35,
    box: [787.7, 856.7], lines: [L('top 1', C.blue, maAvgIter, maAvgTop1, maAvgTop1Std), L('top 2', C.green, maAvgIter, maAvgTop2, maAvgTop2Std), L('top 5', C.red, maAvgIter, maAvgTop5, maAvgTop5Std), L('all', C.purple, maAvgIter, maAvgAll, maAvgAllStd), L('OSS', C.gold, maAvgIter, maAvgOss, maAvgOssStd, 4)] }
];

const TXT = '#333';
const FONT = 'DejaVu Sans';
const THIN = 'path://M0,0L0,0M14,7L14,7M5,2.3L12,2.3L12,4.7L5,4.7Z';
const THICK = 'path://M0,0L0,0M14,7L14,7M3.2,0.8L10.8,0.8A2.7,2.7,0,0,1,10.8,6.2L3.2,6.2A2.7,2.7,0,0,1,3.2,0.8Z';

function fmt(v, dec) {
  const s = Math.abs(v).toFixed(dec);
  return v < 0 ? '\u2212' + s : s;
}

// shaded mean +/- std band, drawn as one polygon through the axis scales
function bandRenderer(rows, color, smooth) {
  return function (params, api) {
    if (params.dataIndex !== 0) return null;
    const pts = [];
    rows.forEach(r => pts.push(api.coord([r[0], r[2]])));
    for (let k = rows.length - 1; k >= 0; k--) pts.push(api.coord([rows[k][0], rows[k][1]]));
    const cs = params.coordSys;
    return {
      type: 'polygon', silent: true,
      shape: { points: echarts.graphic.clipPointsByRect(pts, { x: cs.x, y: cs.y, width: cs.width, height: cs.height }), smooth: smooth ? 0.25 : 0 },
      style: { fill: color, opacity: 0.2 }
    };
  };
}

const grid = [], xAxis = [], yAxis = [], series = [], legend = [];

panels.forEach((p, i) => {
  grid.push({ left: p.rect[0], top: p.rect[1], width: p.rect[2], height: p.rect[3], show: true,
    backgroundColor: '#EAEAF2', borderWidth: 0, containLabel: false, outerBoundsMode: 'none' });
  xAxis.push({ type: 'value', gridIndex: i, min: p.x[0], max: p.x[1],
    axisLine: { show: false }, axisTick: { show: false, customValues: p.xt },
    axisLabel: { customValues: p.xt, fontSize: 5.5, color: TXT, margin: 3, fontFamily: FONT, formatter: v => fmt(v, 0) },
    splitLine: { show: true, lineStyle: { color: '#fff', width: 1 } },
    name: 'Iterations', nameLocation: 'middle', nameGap: p.xg, nameMoveOverlap: false,
    nameTextStyle: { fontSize: 9.5, color: TXT, fontFamily: FONT } });
  yAxis.push({ type: 'value', gridIndex: i, min: p.y[0], max: p.y[1],
    axisLine: { show: false }, axisTick: { show: false, customValues: p.yt },
    axisLabel: { customValues: p.yt, fontSize: 5.5, color: TXT, margin: p.lm, fontFamily: FONT,
      formatter: v => fmt(v, p.dec) },
    splitLine: { show: true, lineStyle: { color: '#fff', width: 1 } },
    name: 'Average Return', nameLocation: 'middle', nameGap: p.yg, nameMoveOverlap: false,
    nameTextStyle: { fontSize: 9.5, color: TXT, fontFamily: FONT } });

  p.lines.forEach(ln => {
    const rows = ln.mean.map((m, k) => [ln.iter[k], m - ln.std[k], m + ln.std[k]]);
    series.push({ type: 'custom', name: ln.name + ' band', xAxisIndex: i, yAxisIndex: i, silent: true, z: 1,
      dimensions: ['iter', 'lo', 'hi'], encode: { x: 0, y: [1, 2] },
      data: rows, renderItem: bandRenderer(rows, ln.color, p.smooth) });
  });
  p.lines.forEach(ln => {
    series.push({ type: 'line', name: ln.name, xAxisIndex: i, yAxisIndex: i, symbol: 'none',
      smooth: p.smooth || false, z: 2, color: ln.color,
      lineStyle: { color: ln.color, width: ln.width },
      data: ln.mean.map((m, k) => [ln.iter[k], m]) });
  });

  if (p.legend) {
    legend.push({ orient: 'vertical', left: p.legend[0], top: p.legend[1], padding: 0, itemGap: 0.5,
      itemWidth: 18, itemHeight: 3, icon: 'rect', selectedMode: false, itemStyle: { borderWidth: 0 },
      textStyle: { fontSize: 8, color: TXT, lineHeight: 12, fontFamily: FONT },
      data: p.lines.map(l => l.name) });
  } else {
    legend.push({ orient: 'horizontal', left: p.box[0], top: p.box[1], padding: [4, 3, 4, 0], itemGap: 8,
      itemWidth: 14, itemHeight: 7, selectedMode: false, itemStyle: { borderWidth: 0 },
      backgroundColor: '#fff', borderColor: '#cccccc', borderWidth: 1, borderRadius: 2,
      textStyle: { fontSize: 9, color: TXT, lineHeight: 11, fontFamily: FONT },
      data: p.lines.map(l => ({ name: l.name, icon: l.name === 'OSS' ? THICK : THIN })) });
  }
});

const serif = '"Liberation Serif", "DejaVu Serif", serif';
const graphic = [
  { type: 'text', x: 213, y: 13, style: { text: 'MAML+MI', font: '26px ' + serif, fill: '#000', align: 'center', verticalAlign: 'middle' } },
  { type: 'text', x: 552, y: 13, style: { text: 'MAML', font: '26px ' + serif, fill: '#000', align: 'center', verticalAlign: 'middle' } },
  { type: 'text', x: 890, y: 13, style: { text: 'Avg Fine-Tune', font: '26px ' + serif, fill: '#000', align: 'center', verticalAlign: 'middle' } },
  { type: 'text', x: 8, y: 123, scaleY: 1.25, style: { text: 'FT', font: '25px ' + serif, fill: '#000', align: 'left', verticalAlign: 'middle' } },
  { type: 'text', x: 8, y: 338, scaleY: 1.25, style: { text: 'PS', font: '25px ' + serif, fill: '#000', align: 'left', verticalAlign: 'middle' } },
  { type: 'text', x: 8, y: 552, scaleY: 1.25, style: { text: 'HS', font: '25px ' + serif, fill: '#000', align: 'left', verticalAlign: 'middle' } },
  { type: 'text', x: 8, y: 772, scaleY: 1.25, style: { text: 'MA', font: '25px ' + serif, fill: '#000', align: 'left', verticalAlign: 'middle' } },
  { type: 'text', x: 905, y: 238.5, style: { text: 'Penalty-Save Env3 ranked by Avg Fine-Tuning', font: '9px "DejaVu Sans"', fill: '#262626', align: 'center', verticalAlign: 'middle' } }
];

const chart = echarts.init(document.getElementById('chart'), null, { renderer: 'canvas' });
chart.setOption({
  animation: false,
  backgroundColor: '#fff',
  textStyle: { fontFamily: FONT },
  grid, xAxis, yAxis, series, legend, graphic
});
window.addEventListener('resize', function () {
  chart.resize();
});
</script>
</body>
</html>
